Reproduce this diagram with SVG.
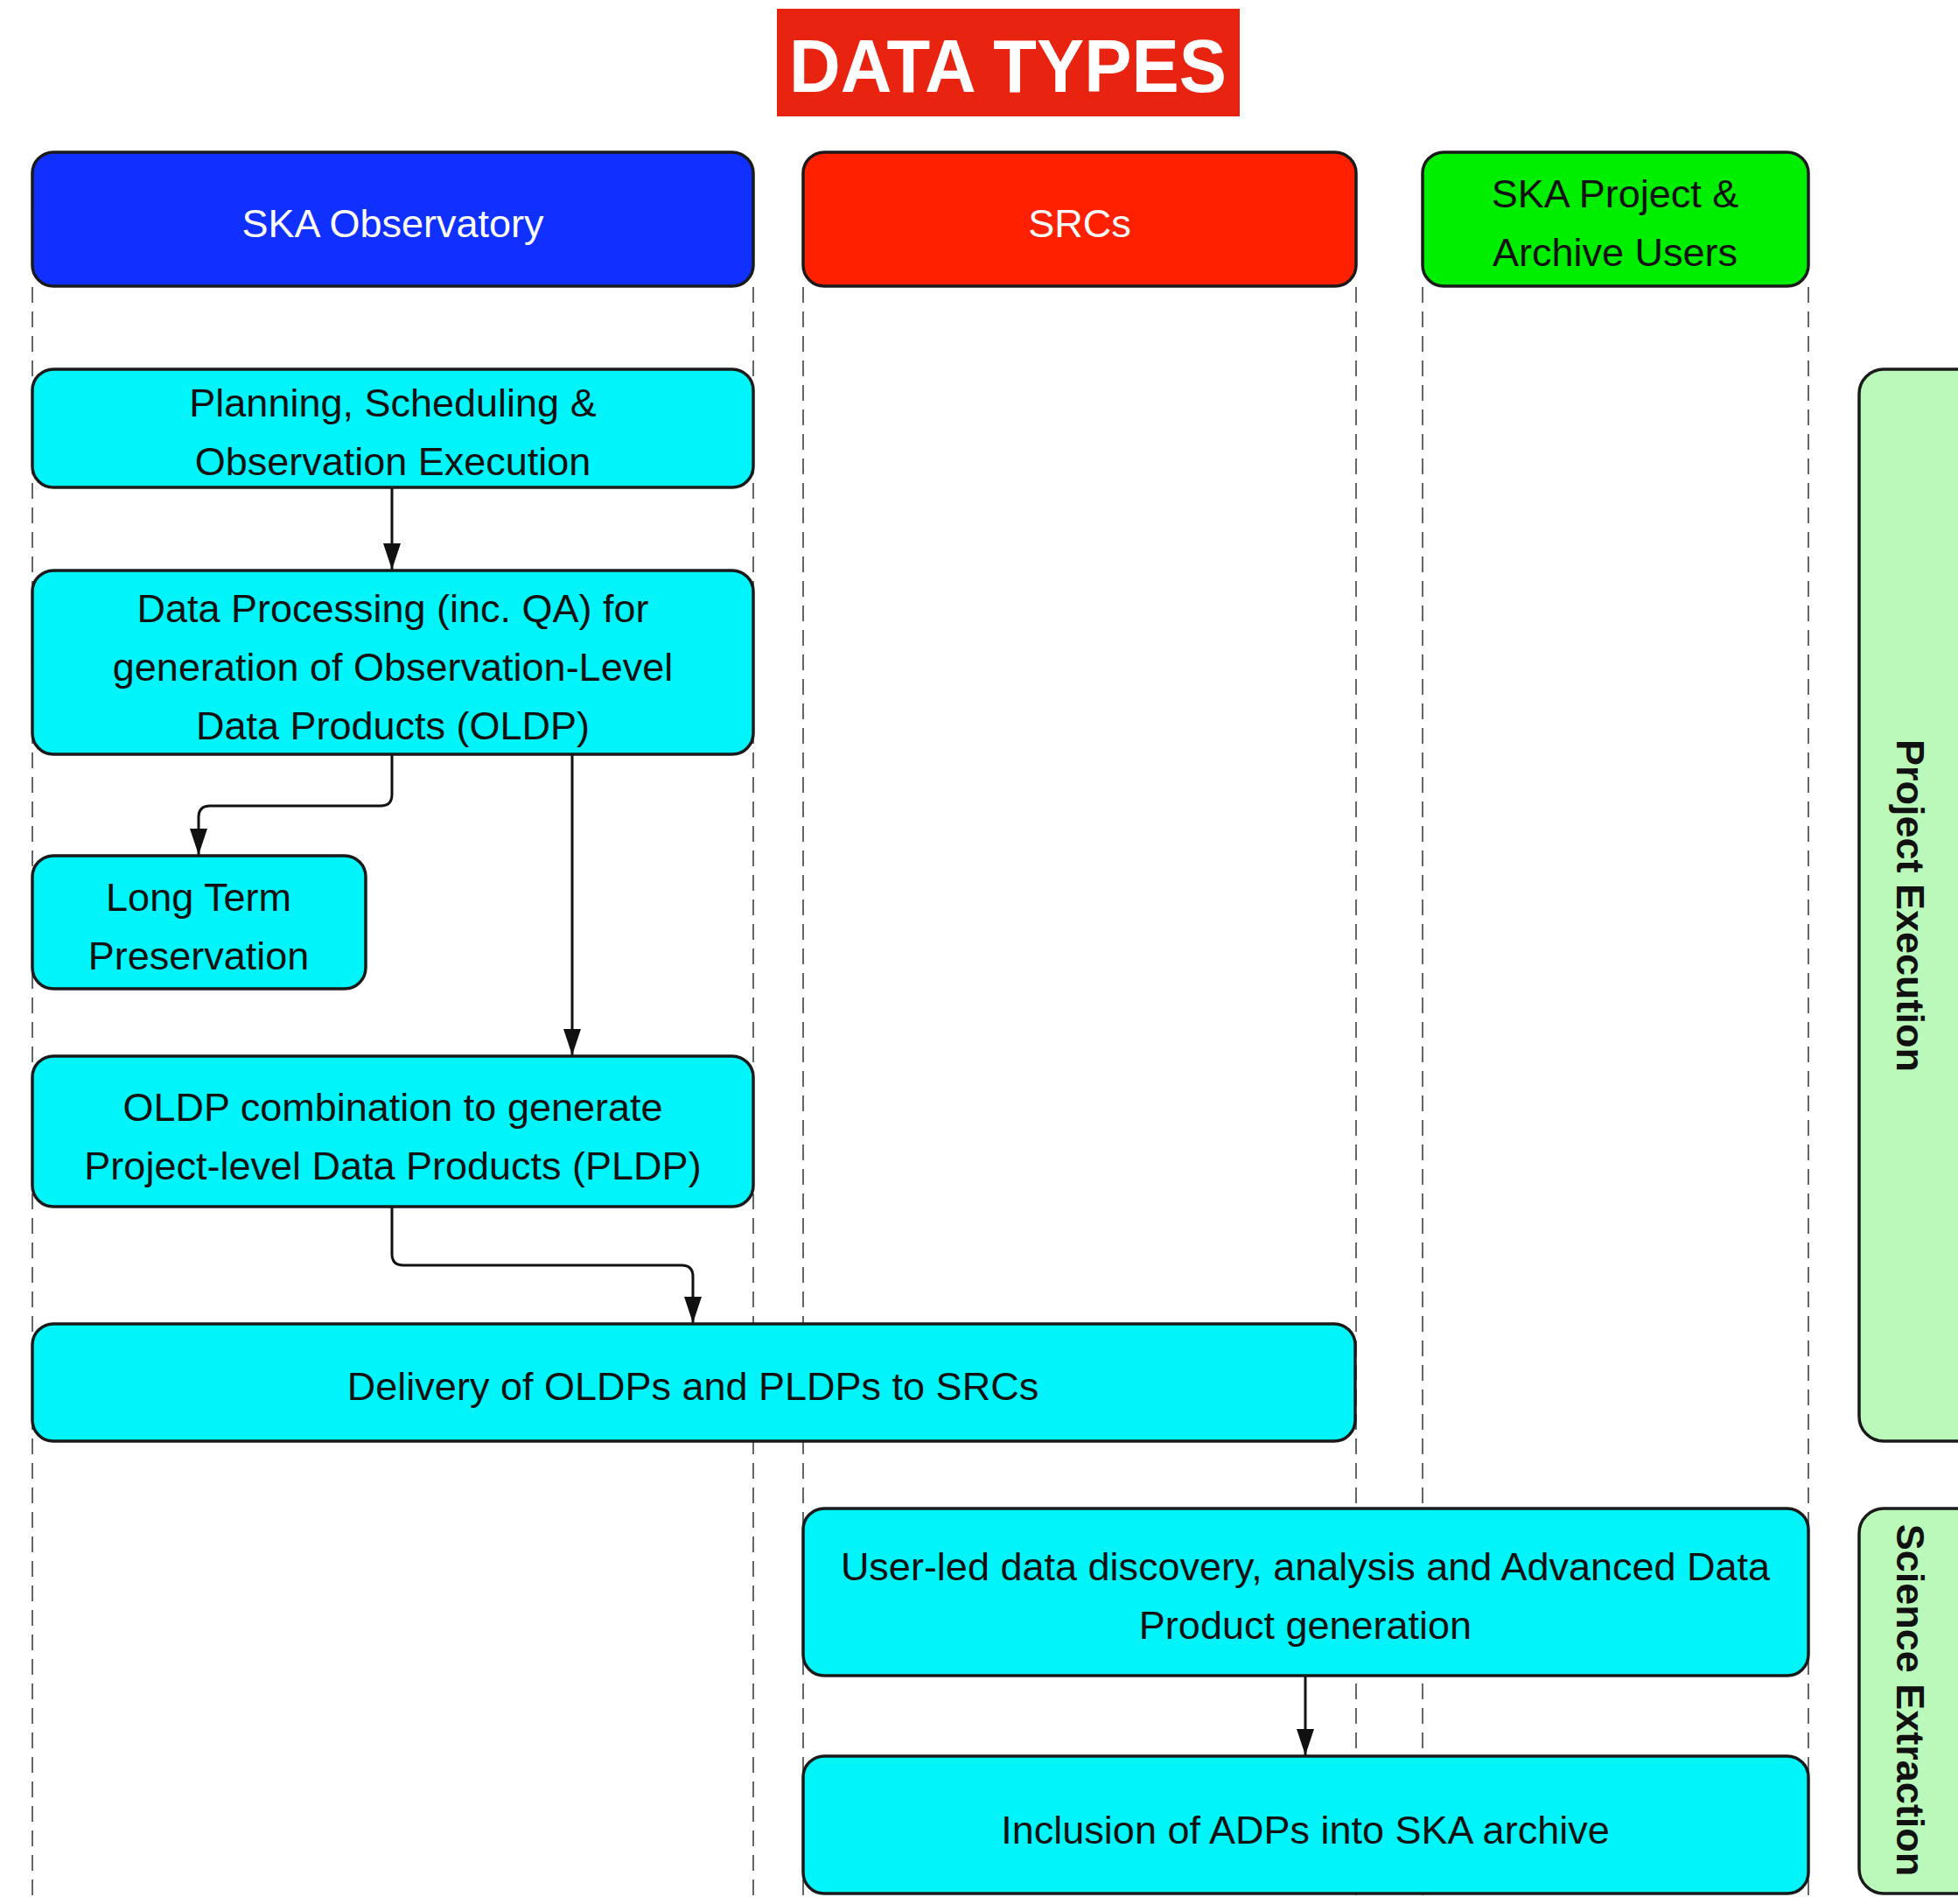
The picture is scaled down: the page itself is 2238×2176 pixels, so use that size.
<svg xmlns="http://www.w3.org/2000/svg" width="2238" height="2176" viewBox="0 0 2238 2176">
<defs>
<style>
.box{stroke:#1a1a1a;stroke-width:3.5}
.proc{fill:#00F5FA}
.lane{fill:none;stroke:#666;stroke-width:2;stroke-dasharray:18 10}
.t{font-family:"Liberation Sans",Arial,sans-serif;font-size:45px;fill:#111;text-anchor:middle}
.w{fill:#fff}
.side{font-family:"Liberation Sans",Arial,sans-serif;font-size:45px;font-weight:bold;fill:#111;text-anchor:middle}
.conn{fill:none;stroke:#111;stroke-width:3}
</style>
<marker id="ah" viewBox="0 0 30 20" refX="30" refY="10" markerWidth="30" markerHeight="20" markerUnits="userSpaceOnUse" orient="auto">
<path d="M0,0 L30,10 L0,20 z" fill="#111"/>
</marker>
</defs>
<rect width="2238" height="2176" fill="#fff"/>

<g id="lanes">
<line class="lane" x1="37" y1="328" x2="37" y2="2176"/>
<line class="lane" x1="861" y1="328" x2="861" y2="2176"/>
<line class="lane" x1="918" y1="328" x2="918" y2="2176"/>
<line class="lane" x1="1550" y1="328" x2="1550" y2="2176"/>
<line class="lane" x1="1626" y1="328" x2="1626" y2="2176"/>
<line class="lane" x1="2067" y1="328" x2="2067" y2="2176"/>
</g>

<g id="title">
<rect x="888" y="10" width="529" height="123" fill="#E8230F"/>
<text x="1152" y="105" font-family="'Liberation Sans',Arial,sans-serif" font-size="86" font-weight="bold" fill="#fff" text-anchor="middle" textLength="500" lengthAdjust="spacingAndGlyphs">DATA TYPES</text>
</g>

<g id="hdr-ska">
<rect class="box" x="37" y="174" width="824" height="153" rx="24" fill="#1030FF"/>
<text class="t w" x="449" y="271">SKA Observatory</text>
</g>
<g id="hdr-srcs">
<rect class="box" x="918" y="174" width="632" height="153" rx="24" fill="#FF2000"/>
<text class="t w" x="1234" y="271">SRCs</text>
</g>
<g id="hdr-users">
<rect class="box" x="1626" y="174" width="441" height="153" rx="24" fill="#00EE00"/>
<text class="t" x="1846" y="237">SKA Project &amp;</text>
<text class="t" x="1846" y="304">Archive Users</text>
</g>

<g id="connectors">
<line class="conn" x1="448" y1="557" x2="448" y2="651" marker-end="url(#ah)"/>
<path class="conn" d="M448,862 V908 Q448,921 435,921 H240 Q227,921 227,934 V977" marker-end="url(#ah)"/>
<line class="conn" x1="654" y1="862" x2="654" y2="1206" marker-end="url(#ah)"/>
<path class="conn" d="M448,1379 V1433 Q448,1446 461,1446 H779 Q792,1446 792,1459 V1512" marker-end="url(#ah)"/>
<line class="conn" x1="1492" y1="1915" x2="1492" y2="2006" marker-end="url(#ah)"/>
</g>

<g id="n-planning">
<rect class="box proc" x="37" y="422" width="824" height="135" rx="24"/>
<text class="t" x="449" y="476">Planning, Scheduling &amp;</text>
<text class="t" x="449" y="543">Observation Execution</text>
</g>
<g id="n-processing">
<rect class="box proc" x="37" y="652" width="824" height="210" rx="24"/>
<text class="t" x="449" y="711">Data Processing (inc. QA) for</text>
<text class="t" x="449" y="778">generation of Observation-Level</text>
<text class="t" x="449" y="845">Data Products (OLDP)</text>
</g>
<g id="n-ltp">
<rect class="box proc" x="37" y="978" width="381" height="152" rx="24"/>
<text class="t" x="227" y="1041">Long Term</text>
<text class="t" x="227" y="1108">Preservation</text>
</g>
<g id="n-combination">
<rect class="box proc" x="37" y="1207" width="824" height="172" rx="24"/>
<text class="t" x="449" y="1281">OLDP combination to generate</text>
<text class="t" x="449" y="1348">Project-level Data Products (PLDP)</text>
</g>
<g id="n-delivery">
<rect class="box proc" x="37" y="1513" width="1512" height="134" rx="24"/>
<text class="t" x="792" y="1600">Delivery of OLDPs and PLDPs to SRCs</text>
</g>
<g id="n-userled">
<rect class="box proc" x="918" y="1724" width="1149" height="191" rx="24"/>
<text class="t" x="1492" y="1806">User-led data discovery, analysis and Advanced Data</text>
<text class="t" x="1492" y="1873">Product generation</text>
</g>
<g id="n-inclusion">
<rect class="box proc" x="918" y="2007" width="1149" height="157" rx="24"/>
<text class="t" x="1492" y="2107">Inclusion of ADPs into SKA archive</text>
</g>

<g id="phase-project">
<rect class="box" x="2125" y="422" width="200" height="1225" rx="28" fill="#BBF9BB"/>
<text class="side" transform="translate(2168,1035) rotate(90)">Project Execution</text>
</g>
<g id="phase-science">
<rect class="box" x="2125" y="1724" width="200" height="440" rx="28" fill="#BBF9BB"/>
<text class="side" transform="translate(2168,1943) rotate(90)">Science Extraction</text>
</g>
</svg>
